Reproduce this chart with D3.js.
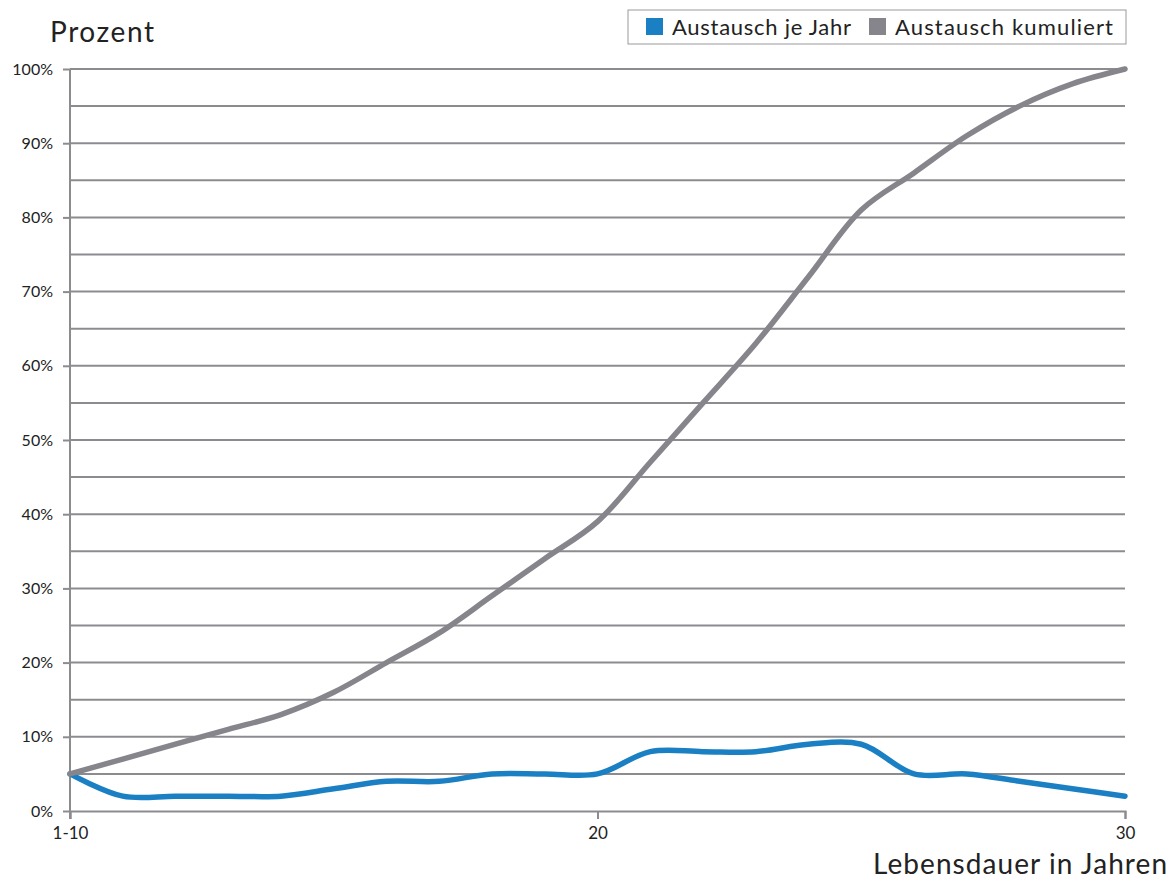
<!DOCTYPE html>
<html>
<head>
<meta charset="utf-8">
<script src="https://cdn.jsdelivr.net/npm/d3@7"></script>
<style>
  html, body { margin: 0; padding: 0; background: #fff; }
  svg { display: block; }
  text { font-family: Lato, "Open Sans", sans-serif; fill: #222; }
</style>
</head>
<body>
<svg id="chart" width="1176" height="881"></svg>
<script>
// Lebensdauer categories (first bucket covers years 1-10)
const categories = ["1-10", "11", "12", "13", "14", "15", "16", "17", "18", "19", "20",
                    "21", "22", "23", "24", "25", "26", "27", "28", "29", "30"];
// Austausch je Jahr (percent)
const perYear = [5, 2, 2, 2, 2, 3, 4, 4, 5, 5, 5, 8, 8, 8, 9, 9, 5, 5, 4, 3, 2];
// Austausch kumuliert (percent)
const cumulative = [5, 7, 9, 11, 13, 16, 20, 24, 29, 34, 39, 47, 55, 63, 72, 81, 86, 91, 95, 98, 100];
// labelled positions on the x axis
const xTickLabels = ["1-10", "20", "30"];
const yTickValues = [0, 10, 20, 30, 40, 50, 60, 70, 80, 90, 100];
const seriesNames = ["Austausch je Jahr", "Austausch kumuliert"];

const colors = { perYear: "#1b80c3", cumulative: "#86858b", grid: "#8c8c90" };

const svg = d3.select("#chart");
const margin = { left: 70, right: 51, top: 69, bottom: 70 };
const W = 1176, H = 881;

const x = d3.scalePoint().domain(categories).range([margin.left, W - margin.right]);
const y = d3.scaleLinear().domain([0, 100]).range([H - margin.bottom, margin.top]);

// horizontal grid lines every 5 %
const gridVals = d3.range(5, 101, 5);
svg.append("g").selectAll("line").data(gridVals).join("line")
  .attr("x1", margin.left).attr("x2", W - margin.right)
  .attr("y1", d => y(d)).attr("y2", d => y(d))
  .attr("stroke", colors.grid).attr("stroke-width", 2);

// y axis
const yAxis = svg.append("g").attr("transform", `translate(${margin.left},0)`)
  .call(d3.axisLeft(y).tickValues(yTickValues).tickFormat(d => d + "%").tickSize(7).tickPadding(10));
yAxis.select(".domain").remove();
yAxis.selectAll(".tick line").attr("stroke", colors.grid).attr("stroke-width", 2);
yAxis.selectAll(".tick text").style("font-size", "16px").attr("fill", "#222");
svg.append("line")
  .attr("x1", margin.left).attr("x2", margin.left)
  .attr("y1", y(100)).attr("y2", y(0) + 8)
  .attr("stroke", colors.grid).attr("stroke-width", 2);

// x axis
const xAxis = svg.append("g").attr("transform", `translate(0,${y(0)})`)
  .call(d3.axisBottom(x).tickValues(xTickLabels).tickSize(8).tickPadding(8));
xAxis.select(".domain").attr("stroke", colors.grid).attr("stroke-width", 2);
xAxis.selectAll(".tick line").attr("stroke", colors.grid).attr("stroke-width", 2);
xAxis.selectAll(".tick text").style("font-size", "17px").attr("fill", "#222");

// series lines
const line = d3.line()
  .x((d, i) => x(categories[i]))
  .y(d => y(d))
  .curve(d3.curveCatmullRom.alpha(0.5));

svg.append("path").datum(perYear)
  .attr("fill", "none").attr("stroke", colors.perYear)
  .attr("stroke-width", 5.5).attr("stroke-linecap", "round").attr("stroke-linejoin", "round")
  .attr("d", line);

svg.append("path").datum(cumulative)
  .attr("fill", "none").attr("stroke", colors.cumulative)
  .attr("stroke-width", 5.5).attr("stroke-linecap", "round").attr("stroke-linejoin", "round")
  .attr("d", line);

// axis titles
svg.append("text").attr("x", 50).attr("y", 42)
  .style("font-size", "28px").attr("textLength", 104).attr("lengthAdjust", "spacing")
  .text("Prozent");
svg.append("text").attr("x", 873).attr("y", 874)
  .style("font-size", "28px").attr("textLength", 294).attr("lengthAdjust", "spacing")
  .text("Lebensdauer in Jahren");

// legend
const legend = svg.append("g");
legend.append("rect").attr("x", 628).attr("y", 10).attr("width", 498).attr("height", 34)
  .attr("fill", "#fff").attr("stroke", "#9a9a9e").attr("stroke-width", 1);
const legendItems = [
  { name: seriesNames[0], color: colors.perYear, x: 646, w: 179 },
  { name: seriesNames[1], color: colors.cumulative, x: 869, w: 218 }
];
legendItems.forEach(it => {
  legend.append("rect").attr("x", it.x).attr("y", 18).attr("width", 17).attr("height", 17)
    .attr("fill", it.color);
  legend.append("text").attr("x", it.x + 26).attr("y", 35)
    .style("font-size", "22px").attr("textLength", it.w).attr("lengthAdjust", "spacing")
    .text(it.name);
});
</script>
</body>
</html>
